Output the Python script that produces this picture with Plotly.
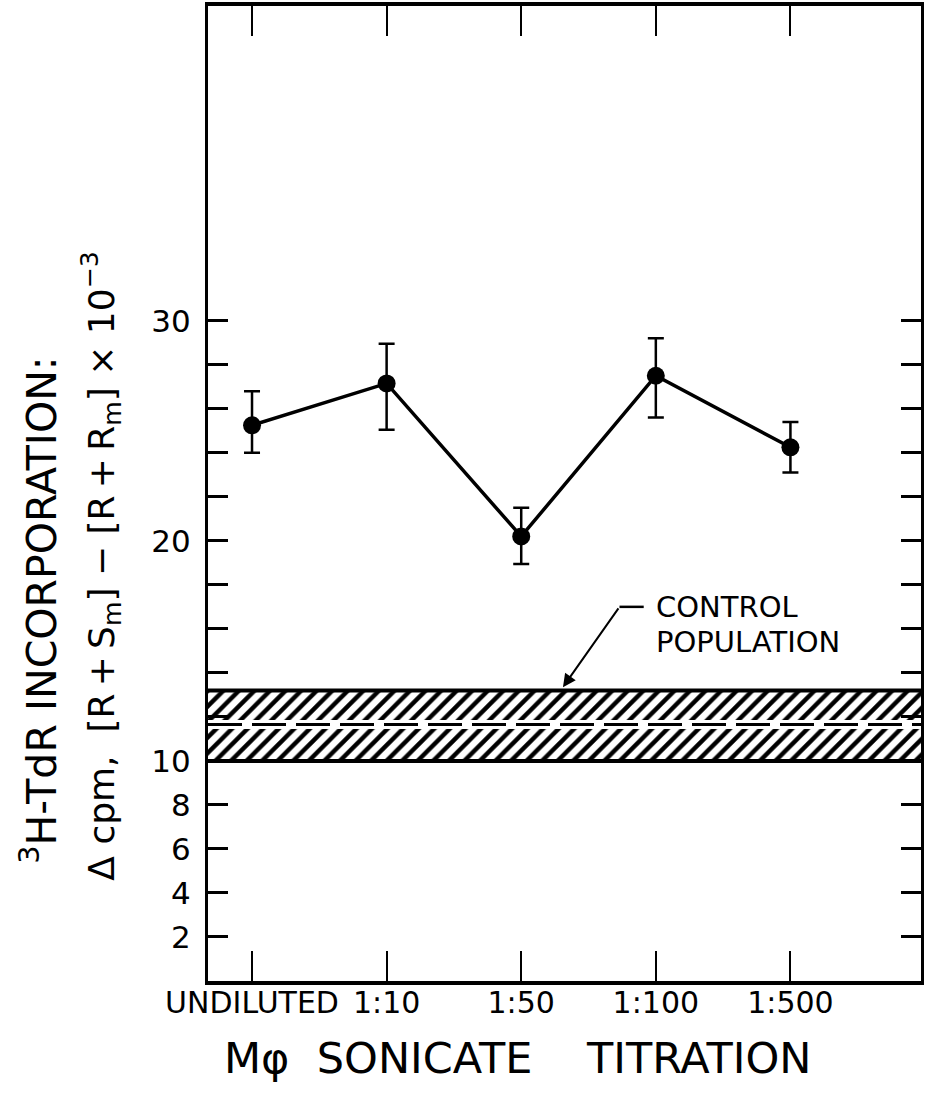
import plotly.graph_objects as go

# ---- data ----
categories = ["UNDILUTED", "1:10", "1:50", "1:100", "1:500"]
values = [25.25, 27.15, 20.2, 27.5, 24.25]
err_upper = [26.8, 28.95, 21.5, 29.2, 25.4]
err_lower = [24.0, 25.05, 18.95, 25.6, 23.1]
control_low = 10.0
control_high = 13.2
control_mean = 11.65
y_tick_vals = [2, 4, 6, 8, 10, 12, 14, 16, 18, 20, 22, 24, 26, 28, 30]
y_tick_text = ["2", "4", "6", "8", "10", "", "", "", "", "20", "", "", "", "", "30"]

x_pos = list(range(len(categories)))
x_range = [-0.327, 4.97]
y_range = [0, 44.3]

FONT = "DejaVu Sans, Liberation Sans, Arial, sans-serif"
NB = "\u00a0"
TS = "\u2009"

fig = go.Figure()

# control band (hatched)
fig.add_trace(go.Scatter(
    x=x_range, y=[control_low, control_low], mode="lines",
    line=dict(color="black", width=4), showlegend=False, hoverinfo="skip"))
fig.add_trace(go.Scatter(
    x=x_range, y=[control_high, control_high], mode="lines",
    line=dict(color="black", width=4), fill="tonexty",
    fillpattern=dict(shape="/", fgcolor="black", bgcolor="white", size=11,
                     solidity=0.4, fgopacity=1),
    showlegend=False, hoverinfo="skip"))
# white gap around mean line, then dashed mean line
fig.add_trace(go.Scatter(
    x=x_range, y=[control_mean, control_mean], mode="lines",
    line=dict(color="white", width=9), showlegend=False, hoverinfo="skip"))
fig.add_trace(go.Scatter(
    x=x_range, y=[control_mean, control_mean], mode="lines",
    line=dict(color="black", width=3, dash="34px,10px"),
    showlegend=False, hoverinfo="skip"))

# data series
fig.add_trace(go.Scatter(
    x=x_pos, y=values, mode="lines+markers",
    line=dict(color="black", width=3.5),
    marker=dict(color="black", size=18),
    error_y=dict(type="data", symmetric=False,
                 array=[u - v for u, v in zip(err_upper, values)],
                 arrayminus=[v - l for v, l in zip(values, err_lower)],
                 color="black", thickness=2.5, width=8),
    showlegend=False))

fig.update_xaxes(
    range=x_range, tickvals=x_pos, ticktext=categories,
    ticks="inside", ticklen=30, tickwidth=2, tickcolor="black",
    showline=True, linecolor="black", linewidth=4, mirror="ticks",
    showgrid=False, zeroline=False, ticklabelstandoff=-8,
    tickfont=dict(family=FONT, size=30, color="black"))
fig.update_yaxes(
    range=y_range, tickvals=y_tick_vals, ticktext=y_tick_text,
    ticks="inside", ticklen=20, tickwidth=3, tickcolor="black",
    showline=True, linecolor="black", linewidth=3, mirror="ticks",
    showgrid=False, zeroline=False, ticklabelstandoff=8,
    tickfont=dict(family=FONT, size=31, color="black"))

annotations = [
    # x-axis title
    dict(text="Mφ" + NB * 2 + "SONICATE" + NB * 4 + "TITRATION", xref="x", yref="paper",
         x=1.97, y=-0.079, xanchor="center", yanchor="middle", showarrow=False,
         font=dict(family=FONT, size=43, color="black")),
    # y-axis title line 1
    dict(text="<sup>3</sup>H-TdR" + NB + "INCORPORATION:", xref="paper", yref="paper",
         x=-0.238, y=0.38, xanchor="center", yanchor="middle", textangle=-90, showarrow=False,
         font=dict(family=FONT, size=41, color="black")),
    # y-axis title line 2
    dict(text="Δ cpm," + NB * 2 + "[R" + TS + "+" + TS + "S<sub>m</sub>] − [R" + TS + "+" + TS
         + "R<sub>m</sub>] × 10<sup>−3</sup>",
         xref="paper", yref="paper",
         x=-0.15, y=0.425, xanchor="center", yanchor="middle", textangle=-90, showarrow=False,
         font=dict(family=FONT, size=36, color="black")),
    # control population label
    dict(text="CONTROL", xref="x", yref="y", x=2.99, y=17.0, xanchor="left", yanchor="middle",
         showarrow=False, font=dict(family=FONT, size=29, color="black")),
    dict(text="POPULATION", xref="x", yref="y", x=2.99, y=15.4, xanchor="left", yanchor="middle",
         showarrow=False, font=dict(family=FONT, size=29, color="black")),
    # arrow
    dict(text="", x=2.31, y=13.35, xref="x", yref="y", ax=2.73, ay=17.0,
         axref="x", ayref="y", showarrow=True, arrowhead=2, arrowsize=1.3,
         arrowwidth=2, arrowcolor="black"),
]

fig.add_shape(type="line", xref="x", yref="y", x0=2.73, x1=2.91, y0=17.0, y1=17.0,
              line=dict(color="black", width=2.5))

fig.update_layout(
    width=926, height=1095,
    margin=dict(l=208, r=4, t=2, b=114),
    paper_bgcolor="white", plot_bgcolor="white",
    annotations=annotations,
    font=dict(family=FONT, color="black"),
)

fig.write_html("out.html")
